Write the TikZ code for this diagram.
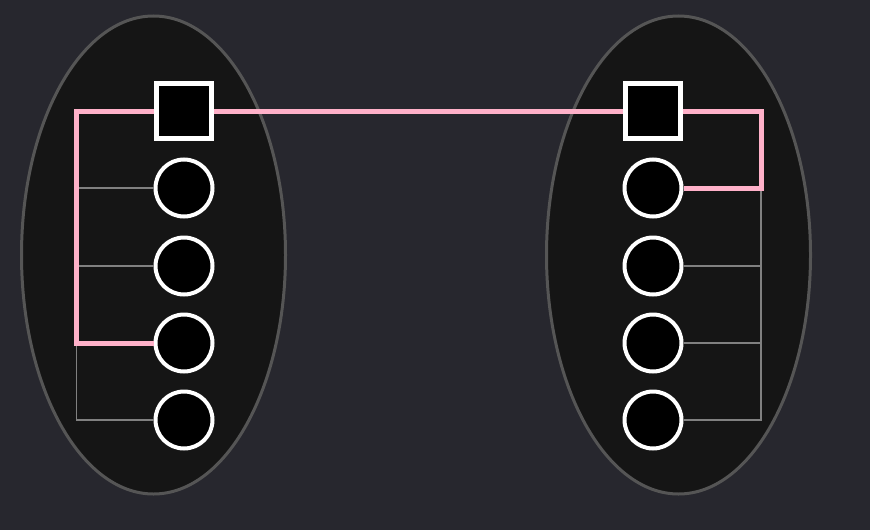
\documentclass[tikz,border=0pt]{standalone}
\usepackage{tikz}
\definecolor{bgc}{HTML}{27272E}
\definecolor{ellfill}{HTML}{151515}
\definecolor{ellline}{HTML}{555555}
\definecolor{pinkc}{HTML}{FFB1C9}
\definecolor{wirec}{HTML}{808080}

\begin{document}
\begin{tikzpicture}[x=1pt, y=-1pt, group/.style={draw=ellline, fill=ellfill, line width=3pt}, port/.style={draw=white, fill=black, rectangle, minimum size=55pt, line width=4.5pt, inner sep=0pt}, pin/.style={draw=white, fill=black, circle, minimum size=57pt, line width=4pt, inner sep=0pt}, link/.style={draw=pinkc, line width=5pt}, wire/.style={draw=wirec, line width=1.6pt}]
                % background
                \fill[bgc] (0,0) rectangle (870,530);
                \draw[group] (153.5,255) ellipse [x radius=132pt, y radius=239pt];
                \draw[group] (678.5,255) ellipse [x radius=132pt, y radius=239pt];
                % nodes
                \node[port] (sqL) at (184,111) {};
                \node[pin] (cL1) at (184,188) {};
                \node[pin] (cL2) at (184,266) {};
                \node[pin] (cL3) at (184,343) {};
                \node[pin] (cL4) at (184,420) {};
                \node[port] (sqR) at (653,111) {};
                \node[pin] (cR1) at (653,188) {};
                \node[pin] (cR2) at (653,266) {};
                \node[pin] (cR3) at (653,343) {};
                \node[pin] (cR4) at (653,420) {};
                \coordinate (lbus) at (76.5,111);
                \coordinate (rbus) at (761,111);
                % edges
                \draw[wire] (cL1.west) -- (cL1.west -| lbus) -- (cL4.west -| lbus) -- (cL4.west);
                \draw[wire] (cL2.west) -- (cL2.west -| lbus);
                \draw[wire] (cR1.east -| rbus) -- (cR4.east -| rbus) -- (cR4.east);
                \draw[wire] (cR2.east) -- (cR2.east -| rbus);
                \draw[wire] (cR3.east) -- (cR3.east -| rbus);
                \draw[link] (sqL.east) -- (sqR.west);
                \draw[link] (sqL.west) -- (lbus) |- (cL3.west);
                \draw[link] (sqR.east) -- (rbus) |- (cR1.east);
            \end{tikzpicture}
\end{document}
